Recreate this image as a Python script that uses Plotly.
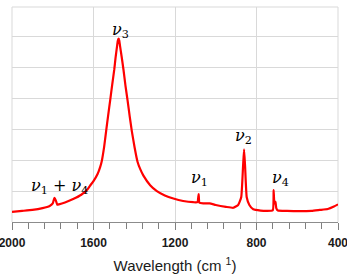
import plotly.graph_objects as go

wavenumber = [2000, 1950, 1900, 1850, 1815, 1800, 1792, 1785, 1778, 1770, 1740, 1700, 1660, 1630,
              1616, 1600, 1580, 1567, 1559, 1548, 1538, 1528, 1518, 1508, 1498, 1492, 1485, 1481, 1477,
              1474, 1470, 1462, 1453, 1443, 1433, 1422, 1412, 1398, 1384, 1370,
              1355, 1322, 1289, 1250, 1208, 1160, 1110, 1090, 1084, 1080, 1060, 1030, 1000, 950,
              914, 890, 875, 866, 861, 856, 848, 835, 816, 780, 750, 720, 716, 712, 707, 703, 695,
              650, 587, 530, 489, 450, 420, 400]
intensity = [0.33, 0.36, 0.39, 0.45, 0.52, 0.6, 0.78, 0.7, 0.56, 0.57, 0.63, 0.74, 0.88, 1.05,
             1.18, 1.32, 1.55, 1.78, 1.98, 2.42, 2.94, 3.45, 3.94, 4.45, 4.93, 5.3, 5.65, 5.85, 5.93,
             5.88, 5.7, 5.35, 4.93, 4.4, 3.94, 3.4, 2.94, 2.4, 1.95, 1.7,
             1.5, 1.19, 1.0, 0.86, 0.76, 0.68, 0.64, 0.64, 0.9, 0.62, 0.6, 0.6, 0.55, 0.49,
             0.46, 0.55, 0.8, 1.8, 2.35, 1.8, 0.8, 0.55, 0.41, 0.37, 0.36, 0.38, 1.03, 0.6, 0.65, 0.45, 0.37,
             0.36, 0.35, 0.36, 0.39, 0.42, 0.5, 0.57]

labels = ["<i>ν</i><sub>3</sub>", "<i>ν</i><sub>2</sub>", "<i>ν</i><sub>1</sub>", "<i>ν</i><sub>4</sub>",
          "<i>ν</i><sub>1</sub> + <i>ν</i><sub>4</sub>"]
label_x = [1469, 864, 1082, 684, 1768]
label_y = [6.2, 2.77, 1.42, 1.42, 1.16]

x_ticks = [2000, 1600, 1200, 800, 400]

fig = go.Figure()
fig.add_trace(go.Scatter(x=wavenumber, y=intensity, mode="lines",
                         line=dict(color="#ff0000", width=2.2, shape="spline", smoothing=0.4),
                         hoverinfo="skip"))

for t, x, y in zip(labels, label_x, label_y):
    fig.add_annotation(x=x, y=y, text=t, showarrow=False, xanchor="center", yanchor="middle",
                       font=dict(family="DejaVu Serif", size=16, color="#000000"))

fig.update_layout(
    width=347, height=278,
    margin=dict(l=11.7, r=9, t=7, b=56, autoexpand=False),
    paper_bgcolor="white", plot_bgcolor="white",
    showlegend=False,
    xaxis=dict(range=[2000, 400], tickvals=x_ticks, ticktext=[f"<b>{v}</b>" for v in x_ticks],
               showgrid=True, gridcolor="#d9d9d9", gridwidth=1,
               showline=True, linecolor="#8c8c8c", linewidth=1,
               ticks="outside", ticklen=7, tickcolor="#7f7f7f", tickwidth=1.3,
               ticklabeloverflow="allow", ticklabelstandoff=3,
               minor=dict(tickmode="linear", tick0=400, dtick=80, ticks="outside", ticklen=6,
                          tickcolor="#7f7f7f", tickwidth=1.3, showgrid=False),
               tickfont=dict(family="Liberation Sans", size=12, color="#1a1a1a"),
               title=dict(text="Wavelength (cm <sup>1</sup>)", standoff=11,
                          font=dict(family="Liberation Sans", size=15, color="#1a1a1a")),
               zeroline=False),
    yaxis=dict(range=[0, 6.95], dtick=1, showgrid=True, gridcolor="#d9d9d9", gridwidth=1,
               showticklabels=False, zeroline=False, showline=False),
)
for x0 in (0, 1):
    fig.add_shape(type="line", xref="paper", yref="paper", x0=x0, x1=x0, y0=0, y1=1,
                  line=dict(color="#d9d9d9", width=1), layer="below")
fig.add_shape(type="line", xref="paper", yref="paper", x0=0, x1=1, y0=1, y1=1,
              line=dict(color="#d9d9d9", width=1), layer="below")

fig.write_html("out.html")
